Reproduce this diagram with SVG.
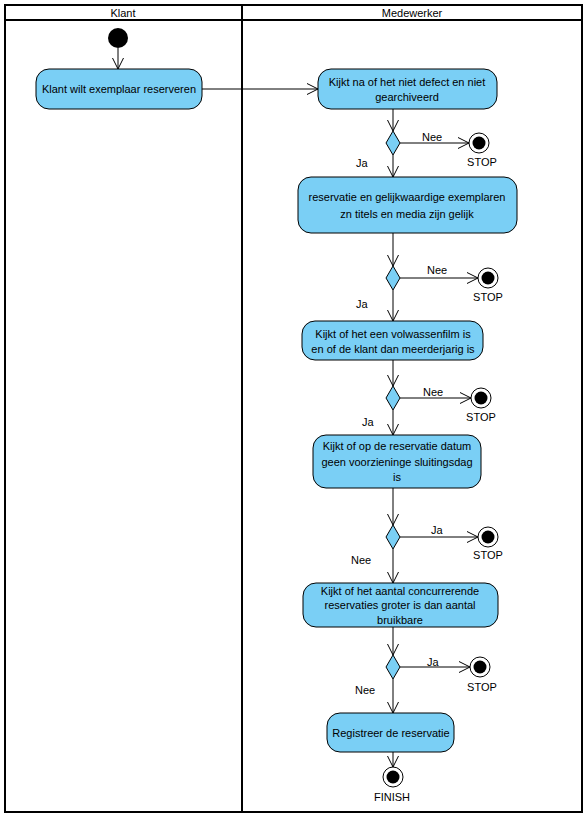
<svg xmlns="http://www.w3.org/2000/svg" width="584" height="814" viewBox="0 0 584 814">
<style>
text{font-family:"Liberation Sans",Arial,sans-serif;font-size:11px;fill:#000}
.act{fill:#7acff5;stroke:#000;stroke-width:1}
.dec{fill:#7acff5;stroke:#000;stroke-width:1}
.edge{stroke:#000;stroke-width:1;fill:none}
.lane{fill:none;stroke:#000;stroke-width:2}
.c{text-anchor:middle}
</style>
<defs>
<marker id="arr" markerUnits="userSpaceOnUse" markerWidth="14" markerHeight="14" refX="11" refY="6" orient="auto">
<path d="M0,0.5 L11,6 L0,11.5" fill="none" stroke="#000" stroke-width="1"/>
</marker>
</defs>
<rect width="584" height="814" fill="#fff"/>
<g id="swimlanes">
<rect class="lane" x="5" y="5" width="577" height="807"/>
<line class="lane" x1="5" y1="20" x2="582" y2="20"/>
<line class="lane" x1="242" y1="5" x2="242" y2="812"/>
<text class="c" x="123" y="17">Klant</text>
<text class="c" x="412" y="17">Medewerker</text>
</g>
<g id="connectors">
<line class="edge" x1="118" y1="48" x2="118" y2="69" marker-end="url(#arr)"/>
<line class="edge" x1="202" y1="89" x2="318" y2="89" marker-end="url(#arr)"/>
<line class="edge" x1="393" y1="109" x2="393" y2="131" marker-end="url(#arr)"/>
<line class="edge" x1="400" y1="143" x2="469" y2="143" marker-end="url(#arr)"/>
<line class="edge" x1="393" y1="155" x2="393" y2="177" marker-end="url(#arr)"/>
<line class="edge" x1="393" y1="233" x2="393" y2="266" marker-end="url(#arr)"/>
<line class="edge" x1="400" y1="278" x2="478" y2="278" marker-end="url(#arr)"/>
<line class="edge" x1="393" y1="290" x2="393" y2="321" marker-end="url(#arr)"/>
<line class="edge" x1="393" y1="360" x2="393" y2="386" marker-end="url(#arr)"/>
<line class="edge" x1="400" y1="398" x2="471" y2="398" marker-end="url(#arr)"/>
<line class="edge" x1="393" y1="410" x2="393" y2="435" marker-end="url(#arr)"/>
<line class="edge" x1="393" y1="488" x2="393" y2="525" marker-end="url(#arr)"/>
<line class="edge" x1="400" y1="537" x2="478" y2="537" marker-end="url(#arr)"/>
<line class="edge" x1="393" y1="549" x2="393" y2="583" marker-end="url(#arr)"/>
<line class="edge" x1="393" y1="627" x2="393" y2="655" marker-end="url(#arr)"/>
<line class="edge" x1="400" y1="667" x2="470" y2="667" marker-end="url(#arr)"/>
<line class="edge" x1="393" y1="679" x2="393" y2="713" marker-end="url(#arr)"/>
<line class="edge" x1="393" y1="752" x2="393" y2="767" marker-end="url(#arr)"/>
<text x="422" y="141">Nee</text>
<text x="356" y="167">Ja</text>
<text x="427" y="274">Nee</text>
<text x="356" y="308">Ja</text>
<text x="423" y="396">Nee</text>
<text x="362" y="426">Ja</text>
<text x="431" y="534">Ja</text>
<text x="351" y="564">Nee</text>
<text x="427" y="666">Ja</text>
<text x="355" y="694">Nee</text>
</g>
<g id="start"><circle cx="118" cy="38" r="10" fill="#000"/></g>
<g id="n1"><rect class="act" x="36" y="69" width="166" height="40" rx="13"/><text class="c" x="119" y="93">Klant wilt exemplaar reserveren</text></g>
<g id="n2"><rect class="act" x="318" y="69" width="179" height="40" rx="13"/><text class="c" x="407" y="86">Kijkt na of het niet defect en niet</text><text class="c" x="407" y="101">gearchiveerd</text></g>
<g id="d1"><polygon class="dec" points="393,131 400,143 393,155 386,143"/></g>
<g id="s1"><circle cx="479" cy="143" r="10" fill="#fff" stroke="#000"/><circle cx="479" cy="143" r="6.5" fill="#000"/><text class="c" x="482" y="166">STOP</text></g>
<g id="n3"><rect class="act" x="298" y="177" width="219" height="56" rx="13"/><text class="c" x="407" y="201">reservatie en gelijkwaardige exemplaren</text><text class="c" x="407" y="218">zn titels en media zijn gelijk</text></g>
<g id="d2"><polygon class="dec" points="393,266 400,278 393,290 386,278"/></g>
<g id="s2"><circle cx="488" cy="278" r="10" fill="#fff" stroke="#000"/><circle cx="488" cy="278" r="6.5" fill="#000"/><text class="c" x="488" y="301">STOP</text></g>
<g id="n4"><rect class="act" x="302" y="321" width="181" height="39" rx="13"/><text class="c" x="393" y="338">Kijkt of het een volwassenfilm is</text><text class="c" x="393" y="353">en of de klant dan meerderjarig is</text></g>
<g id="d3"><polygon class="dec" points="393,386 400,398 393,410 386,398"/></g>
<g id="s3"><circle cx="481" cy="398" r="10" fill="#fff" stroke="#000"/><circle cx="481" cy="398" r="6.5" fill="#000"/><text class="c" x="481" y="421">STOP</text></g>
<g id="n5"><rect class="act" x="313" y="435" width="168" height="53" rx="13"/><text class="c" x="397" y="450">Kijkt of op de reservatie datum</text><text class="c" x="397" y="466">geen voorzieninge sluitingsdag</text><text class="c" x="397" y="481">is</text></g>
<g id="d4"><polygon class="dec" points="393,525 400,537 393,549 386,537"/></g>
<g id="s4"><circle cx="488" cy="537" r="10" fill="#fff" stroke="#000"/><circle cx="488" cy="537" r="6.5" fill="#000"/><text class="c" x="488" y="559">STOP</text></g>
<g id="n6"><rect class="act" x="303" y="583" width="195" height="44" rx="13"/><text class="c" x="400" y="595">Kijkt of het aantal concurrerende</text><text class="c" x="400" y="609">reservaties groter is dan aantal</text><text class="c" x="400" y="624">bruikbare</text></g>
<g id="d5"><polygon class="dec" points="393,655 400,667 393,679 386,667"/></g>
<g id="s5"><circle cx="480" cy="667" r="10" fill="#fff" stroke="#000"/><circle cx="480" cy="667" r="6.5" fill="#000"/><text class="c" x="482" y="691">STOP</text></g>
<g id="n7"><rect class="act" x="327" y="713" width="127" height="39" rx="13"/><text class="c" x="391" y="737">Registreer de reservatie</text></g>
<g id="finish"><circle cx="393" cy="777" r="10" fill="#fff" stroke="#000"/><circle cx="393" cy="777" r="6.5" fill="#000"/><text class="c" x="392" y="801">FINISH</text></g>
</svg>
